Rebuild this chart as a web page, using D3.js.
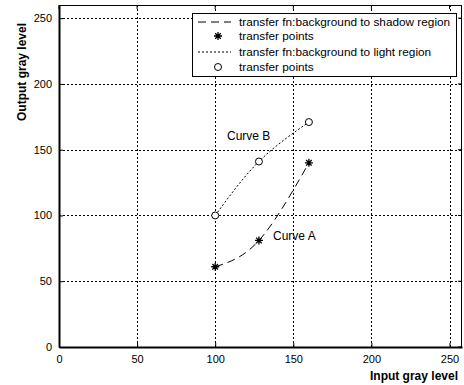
<!DOCTYPE html>
<html>
<head>
<meta charset="utf-8">
<script src="https://cdn.jsdelivr.net/npm/d3@7"></script>
<style>
  html, body { margin: 0; padding: 0; background: #fff; }
  svg { display: block; font-family: "Liberation Sans", Arial, sans-serif; }
</style>
</head>
<body>
<svg id="chart" width="464" height="385"></svg>
<script>
// Transfer points for the two mapping curves
const inputLevels = [100, 128, 160];
const shadowOutput = [61, 81, 140];   // Curve A
const lightOutput = [100, 141, 171];  // Curve B

const xTicks = [0, 50, 100, 150, 200, 250];
const yTicks = [0, 50, 100, 150, 200, 250];

const legendLabels = [
  "transfer fn:background to shadow region",
  "transfer points",
  "transfer fn:background to light region",
  "transfer points"
];

const svg = d3.select("#chart");
const x = d3.scaleLinear().domain([0, 258]).range([59, 462]);
const y = d3.scaleLinear().domain([0, 260]).range([347, 5]);

// grid
const grid = svg.append("g").attr("stroke", "#000").attr("stroke-width", 1)
  .attr("stroke-dasharray", "2,2");
grid.selectAll(".gx").data(xTicks.filter(d => d > 0)).join("line")
  .attr("x1", d => Math.round(x(d)) + 0.5).attr("x2", d => Math.round(x(d)) + 0.5)
  .attr("y1", y(0)).attr("y2", y(260));
grid.selectAll(".gy").data(yTicks.filter(d => d > 0)).join("line")
  .attr("y1", d => Math.round(y(d)) + 0.5).attr("y2", d => Math.round(y(d)) + 0.5)
  .attr("x1", x(0)).attr("x2", x(258));

// axes
const xAxis = d3.axisBottom(x).tickValues(xTicks).tickSizeInner(-4).tickSizeOuter(0).tickPadding(8);
const yAxis = d3.axisLeft(y).tickValues(yTicks).tickSizeInner(-4).tickSizeOuter(0).tickPadding(7);
const gx = svg.append("g").attr("transform", `translate(0,${y(0)})`).call(xAxis);
const gy = svg.append("g").attr("transform", `translate(${x(0)},0)`).call(yAxis);
[gx, gy].forEach(g => {
  g.select(".domain").attr("stroke", "#000").attr("stroke-width", 2);
  g.selectAll(".tick line").attr("stroke", "#000");
  g.selectAll(".tick text").attr("fill", "#000").attr("font-size", 11)
    .attr("font-family", "'Liberation Sans', Arial, sans-serif");
});
// top and right borders with inward ticks
svg.append("line").attr("x1", x(0)).attr("x2", x(258)).attr("y1", y(260) + 0.5).attr("y2", y(260) + 0.5)
  .attr("stroke", "#000");
svg.append("line").attr("x1", x(258) - 0.5).attr("x2", x(258) - 0.5).attr("y1", y(0)).attr("y2", y(260))
  .attr("stroke", "#000");
svg.selectAll(".tt").data(xTicks).join("line")
  .attr("x1", d => x(d)).attr("x2", d => x(d)).attr("y1", y(260)).attr("y2", y(260) + 4)
  .attr("stroke", "#000");
svg.selectAll(".tr").data(yTicks).join("line")
  .attr("y1", d => y(d)).attr("y2", d => y(d)).attr("x1", x(258)).attr("x2", x(258) - 4)
  .attr("stroke", "#000");

// axis titles
svg.append("text").attr("x", 458).attr("y", 380).attr("text-anchor", "end")
  .attr("font-size", 12).attr("font-weight", "bold").text("Input gray level");
svg.append("text").attr("transform", "translate(26,72) rotate(-90)").attr("text-anchor", "middle")
  .attr("font-size", 12).attr("font-weight", "bold").text("Output gray level");

// curves
const line = d3.line().curve(d3.curveNatural).x(d => x(d[0])).y(d => y(d[1]));
const shadowPts = inputLevels.map((v, i) => [v, shadowOutput[i]]);
const lightPts = inputLevels.map((v, i) => [v, lightOutput[i]]);

svg.append("path").datum(shadowPts).attr("d", line).attr("fill", "none")
  .attr("stroke", "#000").attr("stroke-width", 1).attr("stroke-dasharray", "8,5");
svg.append("path").datum(lightPts).attr("d", line).attr("fill", "none")
  .attr("stroke", "#000").attr("stroke-width", 1).attr("stroke-dasharray", "2,2");

function star(g, cx, cy) {
  const r = 4;
  g.append("path").attr("d",
    `M${cx - r},${cy}H${cx + r}M${cx},${cy - r}V${cy + r}` +
    `M${cx - r * 0.7},${cy - r * 0.7}L${cx + r * 0.7},${cy + r * 0.7}` +
    `M${cx - r * 0.7},${cy + r * 0.7}L${cx + r * 0.7},${cy - r * 0.7}`)
    .attr("stroke", "#000").attr("stroke-width", 1.3).attr("fill", "none");
}
const marks = svg.append("g");
shadowPts.forEach(p => star(marks, x(p[0]), y(p[1])));
marks.selectAll("circle").data(lightPts).join("circle")
  .attr("cx", d => x(d[0])).attr("cy", d => y(d[1])).attr("r", 3.5)
  .attr("fill", "#fff").attr("stroke", "#000").attr("stroke-width", 1);

// curve labels
svg.append("text").attr("x", 227).attr("y", 140).attr("font-size", 12).text("Curve B");
svg.append("text").attr("x", 273).attr("y", 240).attr("font-size", 12).text("Curve A");

// legend
const lg = svg.append("g");
lg.append("rect").attr("x", 192.5).attr("y", 13.5).attr("width", 264).attr("height", 63)
  .attr("fill", "#fff").attr("stroke", "#000").attr("stroke-width", 1);
const rowsY = [22, 36, 52, 67];
lg.append("line").attr("x1", 198).attr("x2", 231).attr("y1", rowsY[0]).attr("y2", rowsY[0])
  .attr("stroke", "#000").attr("stroke-dasharray", "8,5");
star(lg, 218, rowsY[1]);
lg.append("line").attr("x1", 198).attr("x2", 231).attr("y1", rowsY[2]).attr("y2", rowsY[2])
  .attr("stroke", "#000").attr("stroke-dasharray", "2,2");
lg.append("circle").attr("cx", 218).attr("cy", rowsY[3]).attr("r", 3.5)
  .attr("fill", "#fff").attr("stroke", "#000");
lg.selectAll("text.leg").data(legendLabels).join("text")
  .attr("x", 239).attr("y", (d, i) => rowsY[i] + 4).attr("font-size", 11.8).text(d => d);
</script>
</body>
</html>
